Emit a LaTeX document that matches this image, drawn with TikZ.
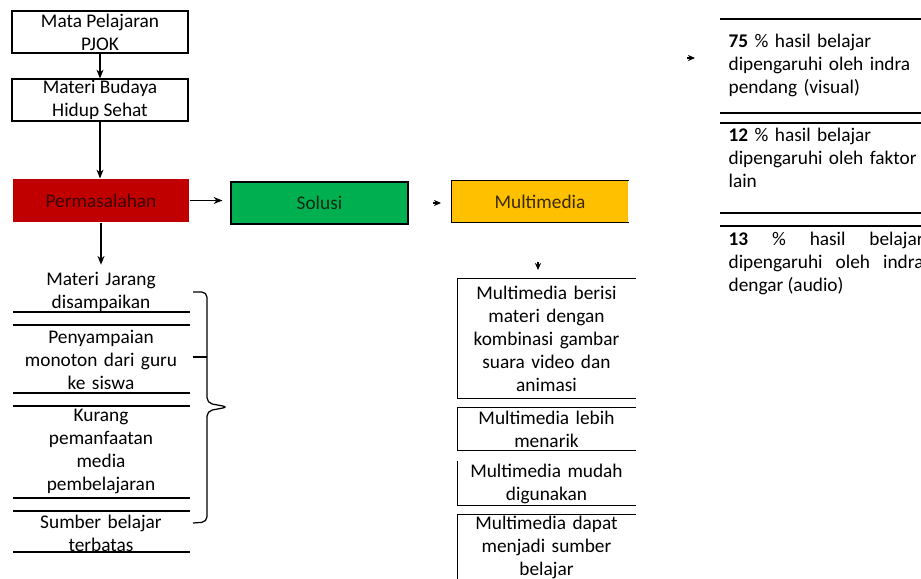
\documentclass[tikz,border=0pt]{standalone}
\usepackage{fontspec}
\setmainfont{Carlito}
\usetikzlibrary{arrows.meta}
\definecolor{merah}{HTML}{C00000}
\definecolor{hijau}{HTML}{00B050}
\definecolor{kuning}{HTML}{FFC000}
\definecolor{tmerah}{HTML}{3A0505}
\definecolor{thijau}{HTML}{0A2A14}
\definecolor{tkuning}{HTML}{3A2A00}
\begin{document}
\begin{tikzpicture}
[
    x=0.02cm, y=-0.02cm,
    line width=0.7pt,
    every node/.style={font=\fontsize{11}{13.1}\selectfont, inner sep=0pt},
    kotak/.style={draw, align=center, minimum width=3.52cm, minimum height=0.84cm},
    warna/.style={align=center, minimum width=3.52cm, minimum height=0.84cm},
    daftar/.style={align=center, text width=3.54cm},
    isian/.style={align=center, text width=3.54cm, minimum width=3.54cm},
    info/.style={align=left, text width=3.9cm, anchor=west},
    panah/.style={-{Stealth[length=5pt,width=4pt]}},
    ujung/.style={-{Stealth[length=4pt,width=3.5pt]}},
]
\useasboundingbox (0,0) rectangle (921,579);

\node[kotak] (mapel) at (100,32) {Mata Pelajaran\\PJOK};
\node[kotak] (materi) at (100,100) {Materi Budaya\\Hidup Sehat};
\node[warna, fill=merah, text=tmerah, minimum height=0.86cm] (masalah) at (101,200.5) {Permasalahan};
\node[warna, fill=hijau, draw, text=thijau, minimum width=3.54cm] (solusi) at (319.5,203) {Solusi};
\node[warna, fill=kuning, text=tkuning, minimum height=0.82cm] (mm) at (540,201.5) {Multimedia};
\draw (mm.north east) -- (mm.north west) -- (mm.south west) -- (mm.south east);

\draw[panah] (mapel) -- (materi);
\draw[panah] (materi.south) -- (materi.south |- masalah.north);
\draw[panah, shorten >=0.16cm] (masalah.east) -- (masalah.east -| solusi.west);

\coordinate (ka) at (433,203);
\coordinate (kb) at (441,203);
\draw[ujung] (ka) -- (kb);
\coordinate (kc) at (538,262);
\coordinate (kd) at (538,270);
\draw[ujung] (kc) -- (kd);
\coordinate (ke) at (687,58);
\coordinate (kf) at (695,58);
\draw[ujung] (ke) -- (kf);

\node[daftar] (jarang) at (101,292) {Materi Jarang\\disampaikan};
\node[daftar] (monoton) at (101,360) {Penyampaian\\monoton dari guru\\ke siswa};
\node[daftar] (media) at (101,451) {Kurang\\pemanfaatan\\media\\pembelajaran};
\node[daftar] (sumber) at (101,533) {Sumber belajar\\terbatas};
\draw[panah, shorten >=0.14cm] (masalah.south) -- (masalah.south |- jarang.north);
\draw (13,312) -- (190,312) (13,325) -- (190,325)
      (13,393) -- (190,393) (13,406) -- (190,406)
      (13,498) -- (190,498) (13,511) -- (190,511)
      (13,552) -- (190,552);
\draw[rounded corners=3pt] (193,292) -- (207,292) -- (207,403) -- (228,407)
      -- (207,411) -- (207,522) -- (193,523);
\draw (193,357) -- (207,357);

\node[isian, minimum height=2.38cm] (isi) at (546.5,338.5)
    {Multimedia berisi\\materi dengan\\kombinasi gambar\\suara video dan\\animasi};
\node[isian, minimum height=0.84cm] (menarik) at (546.5,429) {Multimedia lebih\\menarik};
\node[isian, minimum height=0.86cm] (mudah) at (546.5,483.5) {Multimedia mudah\\digunakan};
\node[isian, minimum height=1.28cm] (sbelajar) at (546.5,547) {Multimedia dapat\\menjadi sumber\\belajar};
\draw (isi.north east) -- (isi.north west) -- (isi.south west) -- (isi.south east);
\draw (menarik.north east) -- (menarik.north west) -- (menarik.south west) -- (menarik.south east);
\draw (mudah.north west) -- (mudah.south west) -- (mudah.south east);
\draw (sbelajar.south west) -- (sbelajar.north west) -- (sbelajar.north east);

\node[info] (visual) at (728,65) {\textbf{75} \% hasil belajar\\dipengaruhi oleh indra\\pendang (visual)};
\node[info] (faktor) at (728,158) {\textbf{12} \% hasil belajar\\dipengaruhi oleh faktor\\lain};
\node[info, align=justify] (audio) at (728,263) {\textbf{13} \% hasil belajar\linebreak dipengaruhi oleh indra\linebreak dengar (audio)};
\draw (720,19) -- (925,19) (720,113) -- (925,113) (720,123) -- (925,123)
      (720,213) -- (925,213) (720,226) -- (925,226);
\end{tikzpicture}
\end{document}
